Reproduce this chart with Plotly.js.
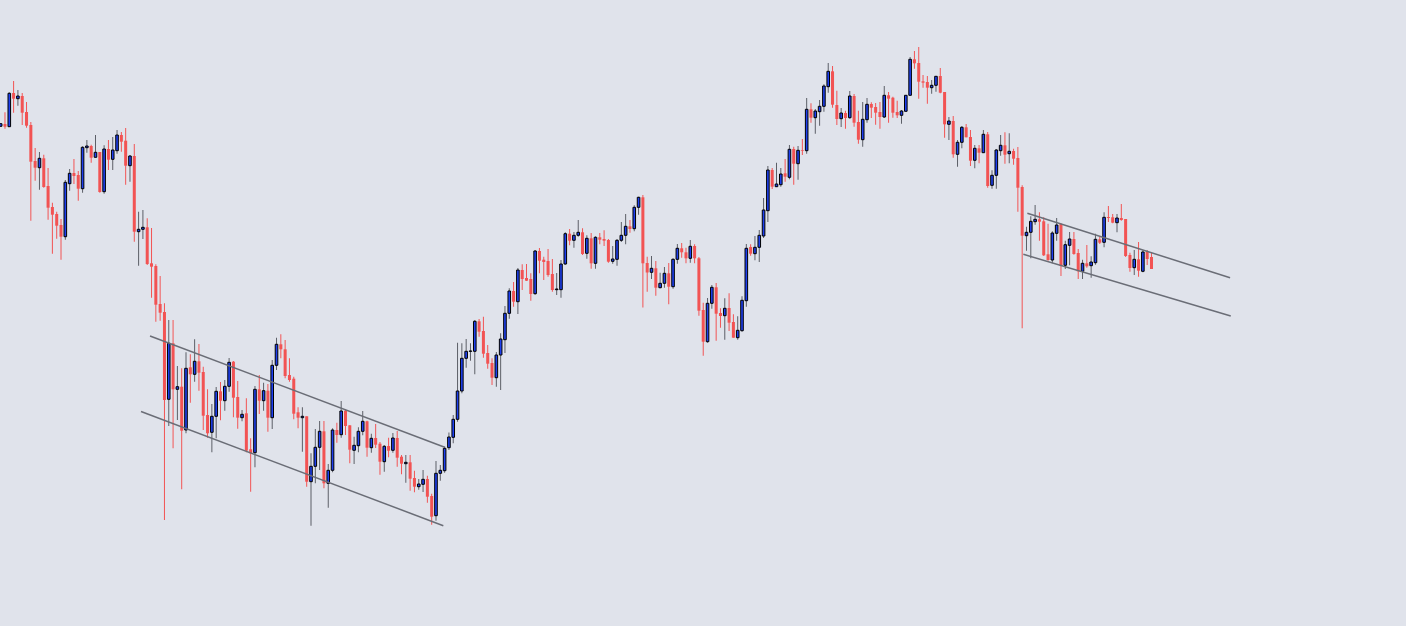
<!DOCTYPE html>
<html>
<head>
<meta charset="utf-8">
<script src="https://cdn.plot.ly/plotly-3.0.1.min.js"></script>
<style>
  html, body { margin: 0; padding: 0; background: #e0e3eb; }
  #chart { width: 1406px; height: 626px; }
</style>
</head>
<body>
<div id="chart"></div>
<script>
// OHLC series (candle index 1..268)
const openP = [
499.7,502,499.3,533,527.3,530,514,501,465,458.3,
467.7,440,419,412,401,389.3,442.3,453,451,437.3,
478.3,480,468.7,474,434.3,477,466.7,475.3,491,485.3,
460.3,470,394.3,396.7,398.7,362.7,360,322,314,226.7,
282.7,236.7,239.3,196,258.7,251.7,264.7,254,211,193.7,
209.7,234.7,225.3,239.7,264.3,229,208.3,212.7,176.7,173.3,
236.7,225.3,235.3,208.3,260.7,281.7,276.7,251,247.3,213.7,
208.3,209.7,144.3,159.7,178.7,194.7,142.7,155.7,196,191.3,
215.3,200.7,175.7,180.3,194.7,204.7,178.3,188,182.3,164.3,
180,175.7,188,169.3,162.3,163.7,148,139.3,141.7,147,
130,110.3,152.7,155.3,178.3,188.7,206.7,235,267.7,274.7,
274.7,304.7,295,273,263,248.3,271,286.3,312.7,335,
324.3,356,348,347,332.3,375,366.3,365,352,336.3,
336.3,362,392.3,385.7,390.7,393.7,372.7,387.7,362.7,388.7,
387,386,364.7,366.7,385.7,390.7,399.7,397.3,418.7,428.7,
363,353.7,357.7,338.3,342.7,352.7,339.3,366.7,377.7,373.7,
367.7,380,367.7,316,284.3,322.7,338.7,313,310.3,318,
304,288.3,295.3,325.3,379,372.3,378.7,390,415.3,456,
439.3,441.3,452.7,448.7,477,462.3,476,475.3,516.7,508.3,
514.3,519.7,539.3,554.7,521,507.3,513,508.3,530,504,
486.3,506.3,522,519,514,509,530.7,528.3,514,510.7,
514.7,530.7,566.7,563,544.7,544,538.3,540.7,550,534,
501.7,505,471.7,483.7,498.7,489,465.7,477.7,473.3,491.7,
440.7,450.7,475.3,480.7,472.3,475,468,439,390.3,393.7,
404.3,406.7,404.7,371.7,366,392.7,402,360.7,380.7,387,
373,354.7,362.7,360.3,363.3,386.7,383.7,409,408.7,403.3,
408,407,371,358.3,366.7,354.7,374,369
];
const highP = [
502.5,513.7,533.7,545,536,533,524,504,478,474,
471.3,458,423.3,414.3,407,446,457,467,455,479.7,
486,481.3,491,474,480.7,486,489,496,494,498,
471,482,414.3,416,407.7,398,361.7,350,322.7,306,
306,260,257.7,273.7,271.7,286.7,282,259.3,236.7,222,
239,244,246,268,265,245,216,227.7,187.7,240,
251,243.3,242,266,288.3,291.7,286,267.7,249.3,218.7,
218.7,209.7,172.7,197,205,205,162,197.7,203.3,225,
216.7,200.7,189.3,198.7,215,205.3,192.3,202,184,181,
188.3,193,195,171,171,171,155.3,147,156,150.3,
132.3,165,161,179.7,193.5,211,283.3,282.7,287,282.7,
306,307,309.3,281,267.7,274,292.7,320,337.7,344,
358,361.7,362,352.7,376,378,369.3,377,367,353,
366,393.7,397,394,406,397.7,390.7,393,389.7,393,
395.7,387,380,387,404,412,406,420.7,429.3,431,
369.3,370,365,353.3,359,363,367.7,382,383,378.3,
386,381.7,369,323.3,328,341,343,317.7,327.7,332.7,
311.7,309.7,329.7,382,381.7,390,396,428,460,458,
463.3,458,467,481,479.3,480,487,528,522.7,517,
526,541.7,563,560,535.3,518,515.3,535,532,515.3,
524,528,523.7,523,524,540,534,529.3,525.3,516,
530.7,569,575,579,551,550,546,549.7,558,534,
509,510,486,500,502,496,481,481,496,494,
455.7,477,491,493.7,492.7,477.3,479,440.7,399.3,409.7,
421,413.7,408.7,402.3,394.7,408,402.7,385.3,394,394,
377,366.3,381,369.7,392.3,389.3,413.7,420,412,412,
422,407,373.3,376,384,375.7,376,373
];
const lowP = [
499.5,497.3,499.3,513.3,520.3,501,498.3,405.3,445.3,436.3,
438.3,406.3,372.3,387.3,366.3,386.3,435.3,442,425.3,433.3,
473.3,463.3,468.7,433.3,432.3,456,456,472.3,474.3,441.3,
444.3,384.3,360.3,387,361,328.3,304.3,305.3,106,200,
177.7,206,136.7,192.7,223.3,244.3,235.3,196,188.3,173.7,
187.7,205.7,215.3,234.3,208.7,197.3,204.7,173.7,134.3,158.7,
212,215.3,194.3,197,256,267.7,247.7,244.3,206.7,197.7,
174.3,139.3,100.3,142.7,156,137.7,118.3,153.7,183.3,188.3,
191,162.7,162,173.7,190.7,169.3,173.3,178,151.3,154.3,
168.7,173.3,159.3,151.7,143.3,135.3,133.7,136.3,134,123.3,
101.3,105.3,145.3,153.3,176,182.7,204.3,232.7,258.3,265.3,
251.7,289.3,268.3,257.3,241,239.3,236,273,307.3,319.3,
312,336,345,325.3,331.3,352.7,346,349.3,334.3,331,
328.3,361.3,380.7,378.3,389.3,371,367.3,357.3,357.3,381.7,
380,363.3,362.3,360.3,384,381.7,393.3,394.7,411.3,318.5,
334.3,347,330.3,337.7,338.3,321.7,337.3,362.3,368.3,362.7,
363.3,362.7,310.3,270.3,283.3,317.3,285.3,298.3,286.3,295,
288.3,286.3,294.3,319.3,370.3,365.7,364,388,404,437,
439.3,439.3,444.3,446.7,441.3,446.3,471,472.3,503.3,492.3,
500.3,514.3,533.3,518.3,501,499,497.3,507.3,499.3,482.3,
479.3,503.3,508,501.3,497.3,508,503.3,508.3,508,502.3,
514.7,530.7,557.3,527.3,538.3,522.3,532.3,534.3,532.7,488.3,
486,468.3,459.3,477.7,488.7,460,457.7,462.7,473.3,438.3,
437.3,437.3,470.3,462.3,462.7,461.3,414.3,297.7,375.3,367.7,
401.3,385.3,370,365.3,362.7,385.3,350,357,360.7,371.3,
347,347,358.3,348.3,361.3,382,378.7,404,402.7,393.7,
405.3,369,354.3,351,349.3,353.7,361,357
];
const closeP = [
502.3,499.3,532.7,527.3,530,513.3,500.3,464.3,458.3,467.7,
439,418.3,411.3,400.3,389.3,443.7,452.7,450,437.3,478.7,
480,468.3,473.7,434,477,466.3,476,491,484.3,460.3,
470,394.3,396.7,398.7,362,359.3,321.3,313.3,226,282.7,
236.7,239.3,195.3,257.7,251.7,264.7,253.3,210.3,192.7,209.7,
234.7,225.3,239.7,263.7,228.3,208.3,211.7,175.3,172.7,236.7,
225.3,235.3,208.3,260.7,281.7,276.7,250,246,212.3,208.3,
209.7,144.3,159.7,178.7,194.7,142.7,155.7,196,191,215,
200,176.3,180.7,194.7,204.7,178.3,187.7,181.3,164.3,179.7,
175.3,188,168.3,162.3,163.7,147.3,139.3,142,146.7,129.3,
109.3,152.7,155.7,177.7,189,206.7,235,267.7,274.7,275,
304.7,294.3,272.3,262.3,248.3,271,287,312.7,335,324.3,
356,347,345.3,332,375,365.3,364,351,336,337,
362,392.3,385.3,390.7,393.7,372,387.7,362.7,388.7,386.3,
385.3,364.3,367,385.7,390.7,399.7,397,418.7,428.7,362.7,
353.5,357.7,338.3,342.7,352.7,339.3,366.7,377.7,373.7,367.7,
379.7,367.7,315.3,284.3,322.7,338.7,312.3,310,317.7,303.3,
288.3,295.7,325.7,377.7,372.3,378.7,390.7,416,456,439.3,
442,452,449.3,476.7,462.3,475.7,475.3,516.7,508.3,515,
519.7,540,554.7,521.3,507,513,508,530,503.3,486.3,
506.7,521.7,518.3,513.3,509,530.7,527.3,513.3,510.7,515,
530.7,566.7,562.7,544.3,543.3,538.3,540.7,549.7,533.3,501.7,
505,471.7,483.7,498.7,488.7,465.3,477.7,473.3,491.7,440,
450.7,476,480.7,471.3,474.7,467.3,438.3,390.3,393.7,404.7,
406.7,404.3,370.7,366,393,401,360,381.3,387,372,
354.7,362.7,359.7,364,386.7,383.3,408.7,408,403.3,408,
406,370,358,366.7,355.3,374,367,357
];
// Channel trendline anchors: [startIndex, startPrice, endIndex, endPrice]
const channelStartX = [35.65, 33.56, 239.2, 238.27];
const channelStartY = [290, 214.5, 412.7, 371.7];
const channelEndX   = [103.86, 103.70, 286.23, 286.39];
const channelEndY   = [179, 100.3, 348.3, 310];

const n = Math.min(openP.length, highP.length, lowP.length, closeP.length);
const upX=[], upWB=[], upWL=[], upBB=[], upBL=[];
const dnX=[], dnWB=[], dnWL=[], dnBB=[], dnBL=[];
for (let i = 0; i < n; i++) {
  const x = i + 1, o = openP[i], h = highP[i], l = lowP[i], c = closeP[i];
  if (c >= o) {
    upX.push(x); upWB.push(l); upWL.push(h - l);
    upBB.push(o); upBL.push(Math.max(c - o, 0.3));
  } else {
    dnX.push(x); dnWB.push(l); dnWL.push(h - l);
    dnBB.push(c); dnBL.push(Math.max(o - c, 0.6));
  }
}
const RED = '#f25353', BLUE = '#1e40f0', WICK = '#5b5e66';
const traces = [
  {type:'bar', x:upX, y:upWL, base:upWB, width:0.23, marker:{color:WICK, line:{width:0}}, hoverinfo:'skip'},
  {type:'bar', x:dnX, y:dnWL, base:dnWB, width:0.23, marker:{color:RED, line:{width:0}}, hoverinfo:'skip'},
  {type:'bar', x:dnX, y:dnBL, base:dnBB, width:0.7, marker:{color:RED, line:{width:0}}, hoverinfo:'skip'},
  {type:'bar', x:upX, y:upBL, base:upBB, width:0.6, marker:{color:BLUE, line:{color:'#000000', width:1}}, hoverinfo:'skip'}
];
const shapes = channelStartX.map((x0, i) => ({
  type:'line', xref:'x', yref:'y', x0:x0, y0:channelStartY[i], x1:channelEndX[i], y1:channelEndY[i],
  line:{color:'#6a6d76', width:1.5}
}));
const layout = {
  width:1406, height:626,
  margin:{l:0, r:0, t:0, b:0, pad:0},
  paper_bgcolor:'#e0e3eb', plot_bgcolor:'#e0e3eb',
  barmode:'overlay', showlegend:false, hovermode:false,
  xaxis:{range:[0.845, 327.05], visible:false, fixedrange:true},
  yaxis:{range:[0, 626], visible:false, fixedrange:true},
  shapes:shapes
};
Plotly.newPlot('chart', traces, layout, {displayModeBar:false, staticPlot:true});
</script>
</body>
</html>
